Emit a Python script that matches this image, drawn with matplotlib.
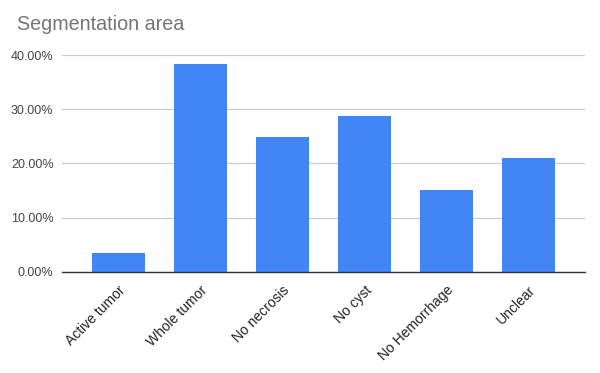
import matplotlib.pyplot as plt
from matplotlib.ticker import FuncFormatter

categories = ['Active tumor', 'Whole tumor', 'No necrosis', 'No cyst', 'No Hemorrhage', 'Unclear']
values = [3.55, 38.35, 24.9, 28.8, 15.15, 21.05]
yticks = [0, 10, 20, 30, 40]

plt.rcParams['font.family'] = ['Liberation Sans', 'DejaVu Sans']

fig = plt.figure(figsize=(6, 3.73), dpi=100)
ax = fig.add_axes([0.103, 0.271, 0.872, 0.5815])

ax.bar(range(len(categories)), values, width=0.65, color='#4285f4', zorder=3)

ax.set_xlim(-0.69, len(categories) - 1 + 0.69)
ax.set_ylim(0, 40)
ax.set_yticks(yticks)
ax.yaxis.set_major_formatter(FuncFormatter(lambda v, p: '%.2f%%' % v))
ax.grid(axis='y', color='#cccccc', linewidth=0.9, zorder=0)

for s in ['top', 'right', 'left']:
    ax.spines[s].set_visible(False)
ax.spines['bottom'].set_color('#333333')
ax.spines['bottom'].set_linewidth(1.0)
ax.spines['bottom'].set_zorder(4)

ax.tick_params(axis='y', length=0, pad=6, labelsize=9, labelcolor='#444444')
ax.tick_params(axis='x', length=0, pad=8, labelsize=10, labelcolor='#222222')
ax.set_xticks(range(len(categories)))
ax.set_xticklabels(categories, rotation=45, ha='right', rotation_mode='anchor')

fig.text(0.028, 0.933, 'Segmentation area', fontsize=14.2, color='#757575', va='center', ha='left')

plt.savefig('out.png', dpi=100)
